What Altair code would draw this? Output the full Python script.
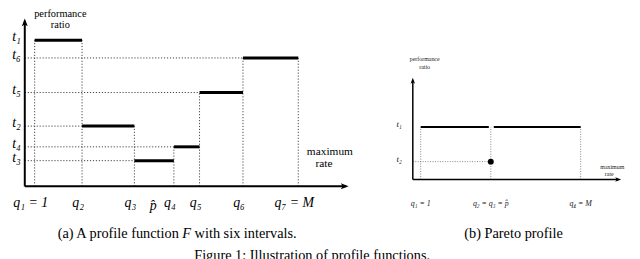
import altair as alt
import pandas as pd

FONT = "Liberation Serif"

# ---------------- Panel (a): a profile function with six intervals ----------------
a_q_labels = ["q₁ = 1", "q₂", "q₃", "q₄", "q₅", "q₆", "q₇ = M"]
a_q = [35, 83, 136, 176, 202, 246, 302]          # interval boundaries (rate axis)
a_t_labels = ["t₁", "t₂", "t₃", "t₄", "t₅", "t₆"]
a_t = [39, 126, 161, 147, 92, 57]                 # level of interval i (ratio axis)
a_origin = (25, 187)
a_tip = (353, 17)
a_phat = 155
a_caption = ["(a) A profile function", "F", "with six intervals."]
a_caption_anchor = 189

# ---------------- Panel (b): Pareto profile ----------------
b_q_labels = ["q₁ = 1", "q₂ = q₃ = p̂", "q₄ = M"]
b_q = [426, 497, 588]
b_t_labels = ["t₁", "t₂"]
b_t = [127, 162]
b_origin = (418, 180)
b_tip = (629, 77)
b_caption = "(b) Pareto profile"
b_caption_anchor = 520

fig_caption = "Figure 1: Illustration of profile functions."
fig_caption_anchor = 316

X = alt.X("x:Q", scale=alt.Scale(domain=[8, 640], nice=False, zero=False), axis=None)
Y = alt.Y("y:Q", scale=alt.Scale(domain=[259, 8], nice=False, zero=False), axis=None)

UP = "M0,0 L0.75,2 L0,1.5 L-0.75,2 Z"
RIGHT = "M0,0 L-2,0.75 L-1.5,0 L-2,-0.75 Z"


def rules(df, **kw):
    enc = dict(x=X, y=Y)
    if "x2" in df:
        enc["x2"] = alt.X2("x2:Q")
    if "y2" in df:
        enc["y2"] = alt.Y2("y2:Q")
    return alt.Chart(df).mark_rule(**kw).encode(**enc)


def texts(df, **kw):
    kw.setdefault("color", "black")
    return alt.Chart(df).mark_text(font=FONT, **kw).encode(x=X, y=Y, text="text:N")


def arrows(df, shape, size):
    return alt.Chart(df).mark_point(shape=shape, filled=True, size=size, color="black",
                                    opacity=1, strokeWidth=0).encode(x=X, y=Y)


def spread(levels, gap):
    """label positions: slightly above each level, pushed apart when crowded"""
    order = sorted(range(len(levels)), key=lambda i: levels[i])
    pos = [0.0] * len(levels)
    prev = None
    for i in order:
        p = levels[i] - 3
        if prev is not None and p - prev < gap:
            p = prev + gap
        pos[i] = p
        prev = p
    return pos


layers = []

# ---- panel (a) ----
ox, oy = a_origin
n = len(a_t)
vtop = []
for j in range(len(a_q)):
    adj = [a_t[k] for k in (j - 1, j) if 0 <= k < n]
    vtop.append(min(adj))
layers.append(rules(pd.DataFrame({"x": a_q, "y": [oy] * len(a_q), "y2": vtop}),
                    strokeDash=[1.2, 1.8], strokeWidth=1, color="#444"))
hdf = pd.DataFrame({"x": [ox] * n, "x2": a_q[:n], "y": a_t})
hdf = hdf[hdf["x2"] - hdf["x"] > 15]
layers.append(rules(hdf, strokeDash=[1.2, 1.8], strokeWidth=1, color="#444"))
layers.append(rules(pd.DataFrame({"x": a_q[:-1], "x2": a_q[1:], "y": a_t}),
                    strokeWidth=3, color="black"))
layers.append(rules(pd.DataFrame({"x": [ox, ox], "x2": [ox, a_tip[0] - 3],
                                  "y": [oy, oy], "y2": [a_tip[1] + 3, oy]}),
                    strokeWidth=2, color="black"))
layers.append(arrows(pd.DataFrame({"x": [ox], "y": [a_tip[1]]}), UP, 64))
layers.append(arrows(pd.DataFrame({"x": [a_tip[0]], "y": [oy]}), RIGHT, 64))
layers.append(texts(pd.DataFrame({"x": a_q, "y": [204] * len(a_q), "text": a_q_labels}),
                    fontSize=14, fontStyle="italic", align="center", baseline="middle", dx=-4))
layers.append(texts(pd.DataFrame({"x": [a_phat], "y": [207], "text": ["p̂"]}),
                    fontSize=14, fontStyle="italic", align="center", baseline="middle"))
layers.append(texts(pd.DataFrame({"x": [ox] * n, "y": spread(a_t, 13), "text": a_t_labels}),
                    fontSize=14, fontStyle="italic", align="right", baseline="middle", dx=-4))
layers.append(texts(pd.DataFrame({"x": [61, 61], "y": [15, 27], "text": ["performance", "ratio"]}),
                    fontSize=10.5, align="center", baseline="alphabetic"))
layers.append(texts(pd.DataFrame({"x": [334, 328], "y": [155, 167], "text": ["maximum", "rate"]}),
                    fontSize=11.5, align="center", baseline="alphabetic"))
# caption (a), with an italic F
layers.append(texts(pd.DataFrame({"x": [a_caption_anchor], "y": [239], "text": [a_caption[0]]}),
                    fontSize=14.5, align="right", baseline="alphabetic", dx=-8))
layers.append(texts(pd.DataFrame({"x": [a_caption_anchor], "y": [239], "text": [a_caption[1]]}),
                    fontSize=14.5, fontStyle="italic", align="center", baseline="alphabetic"))
layers.append(texts(pd.DataFrame({"x": [a_caption_anchor], "y": [239], "text": [a_caption[2]]}),
                    fontSize=14.5, align="left", baseline="alphabetic", dx=8))

# ---- panel (b) ----
bx, by = b_origin
layers.append(rules(pd.DataFrame({"x": b_q, "y": [by] * 3, "y2": [b_t[0]] * 3}),
                    strokeDash=[1, 1.5], strokeWidth=0.8, color="#666"))
layers.append(rules(pd.DataFrame({"x": [bx], "x2": [b_q[1]], "y": [b_t[1]]}),
                    strokeDash=[1, 1.5], strokeWidth=0.8, color="#666"))
layers.append(rules(pd.DataFrame({"x": [b_q[0]], "x2": [b_q[1]], "y": [b_t[0]]}),
                    strokeWidth=2, color="black", x2Offset=-2))
layers.append(rules(pd.DataFrame({"x": [b_q[1]], "x2": [b_q[2]], "y": [b_t[0]]}),
                    strokeWidth=2, color="black", xOffset=3))
layers.append(alt.Chart(pd.DataFrame({"x": [b_q[1]], "y": [b_t[1]]}))
              .mark_circle(size=36, color="black", opacity=1).encode(x=X, y=Y))
layers.append(rules(pd.DataFrame({"x": [bx, bx], "x2": [bx, b_tip[0] - 3],
                                  "y": [by, by], "y2": [b_tip[1] + 3, by]}),
                    strokeWidth=1.5, color="black"))
layers.append(arrows(pd.DataFrame({"x": [bx], "y": [b_tip[1]]}), UP, 36))
layers.append(arrows(pd.DataFrame({"x": [b_tip[0]], "y": [by]}), RIGHT, 36))
layers.append(texts(pd.DataFrame({"x": b_q, "y": [205] * 3, "text": b_q_labels}),
                    fontSize=8, fontStyle="italic", align="center", baseline="middle", color="#222"))
layers.append(texts(pd.DataFrame({"x": [bx] * 2, "y": [v - 3 for v in b_t], "text": b_t_labels}),
                    fontSize=9, fontStyle="italic", align="right", baseline="middle", dx=-11,
                    color="#222"))
layers.append(texts(pd.DataFrame({"x": [430, 430], "y": [60, 68], "text": ["performance", "ratio"]}),
                    fontSize=6, align="center", baseline="alphabetic", color="#222"))
layers.append(texts(pd.DataFrame({"x": [620, 617], "y": [169, 177], "text": ["maximum", "rate"]}),
                    fontSize=6, align="center", baseline="alphabetic", color="#222"))
layers.append(texts(pd.DataFrame({"x": [b_caption_anchor], "y": [239], "text": [b_caption]}),
                    fontSize=14.5, align="center", baseline="alphabetic"))

# ---- figure caption (partly below the visible area, as in the reference) ----
layers.append(texts(pd.DataFrame({"x": [fig_caption_anchor], "y": [262], "text": [fig_caption]}),
                    fontSize=14.5, align="center", baseline="alphabetic"))

chart = (
    alt.layer(*layers)
    .properties(width=632, height=251, padding=0, autosize="none", background="white")
    .configure_view(stroke=None)
)

chart.save("out.html", embed_options={"renderer": "svg", "actions": False})
